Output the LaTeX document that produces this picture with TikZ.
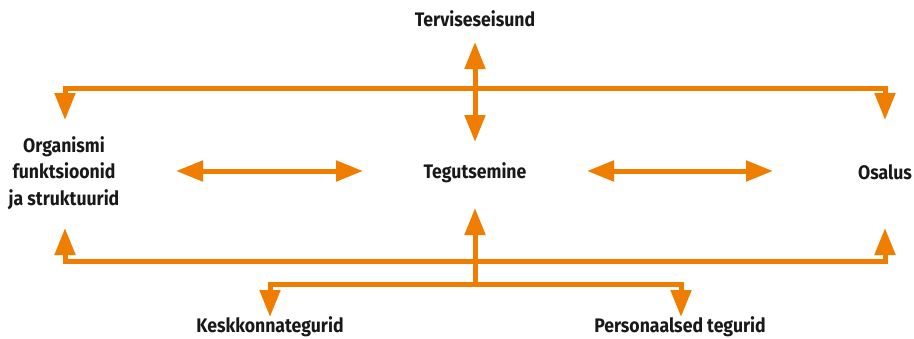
\documentclass[tikz,border=0pt]{standalone}
\usepackage{fontspec}
\setmainfont{Fira Sans}[FakeStretch=0.9]
\usetikzlibrary{arrows.meta}
\definecolor{icforange}{HTML}{EF7D00}
\tikzset{
  lbl/.style={font=\fontsize{19.6}{26.5}\selectfont\bfseries, inner sep=0pt, text=black!90},
  link/.style={draw=icforange, line width=5pt, line join=miter},
  tipend/.style={-{Triangle[length=27pt,width=20pt]}},
  tipboth/.style={{Triangle[length=27pt,width=20pt]}-{Triangle[length=27pt,width=20pt]}},
}
\begin{document}
\begin{tikzpicture}[x=1pt,y=-1pt]
\useasboundingbox (0,0) rectangle (914,338);

% components of the model
\node[lbl, anchor=base] (ter) at (475,26) {Terviseseisund};
\node[lbl, anchor=base] (teg) at (475,178) {Tegutsemine};
\node[lbl, align=center] (org) at (64,173) {Organismi\\funktsioonid\\ja struktuurid};
\node[lbl, anchor=base] (osa) at (885,179) {Osalus};
\node[lbl, anchor=base] (kesk) at (270,332) {Keskkonnategurid};
\node[lbl, anchor=base] (pers) at (680,332) {Personaalsed tegurid};

% junctions and arrow tips
\coordinate (tl) at (65,88);  \coordinate (tr) at (885,88);
\coordinate (tlt) at (65,120); \coordinate (trt) at (885,120);
\coordinate (bl) at (65,261); \coordinate (br) at (885,261);
\coordinate (blt) at (65,228); \coordinate (brt) at (885,228);
\coordinate (cup) at (475,42); \coordinate (cdn) at (475,142);
\coordinate (cbt) at (475,284); \coordinate (cbtip) at (475,208);
\coordinate (el) at (270,284); \coordinate (elt) at (270,317);
\coordinate (pr) at (681,284); \coordinate (prt) at (681,317);
\coordinate (h1a) at (176,171); \coordinate (h1b) at (363,171);
\coordinate (h2a) at (587,171); \coordinate (h2b) at (773,171);

% upper distribution line
\draw[link, tipboth] (tlt) -- (tl) -- (tr) -- (trt);
% health condition <-> activity
\draw[link, tipboth] (cup) -- (cdn);
% horizontal links between the three components
\draw[link, tipboth] (h1a) -- (h1b);
\draw[link, tipboth] (h2a) -- (h2b);
% lower distribution line
\draw[link, tipboth] (blt) -- (bl) -- (br) -- (brt);
% contextual factors
\draw[link, tipboth] (elt) -- (el) -- (pr) -- (prt);
\draw[link, tipend] (cbt) -- (cbtip);
\end{tikzpicture}
\end{document}
